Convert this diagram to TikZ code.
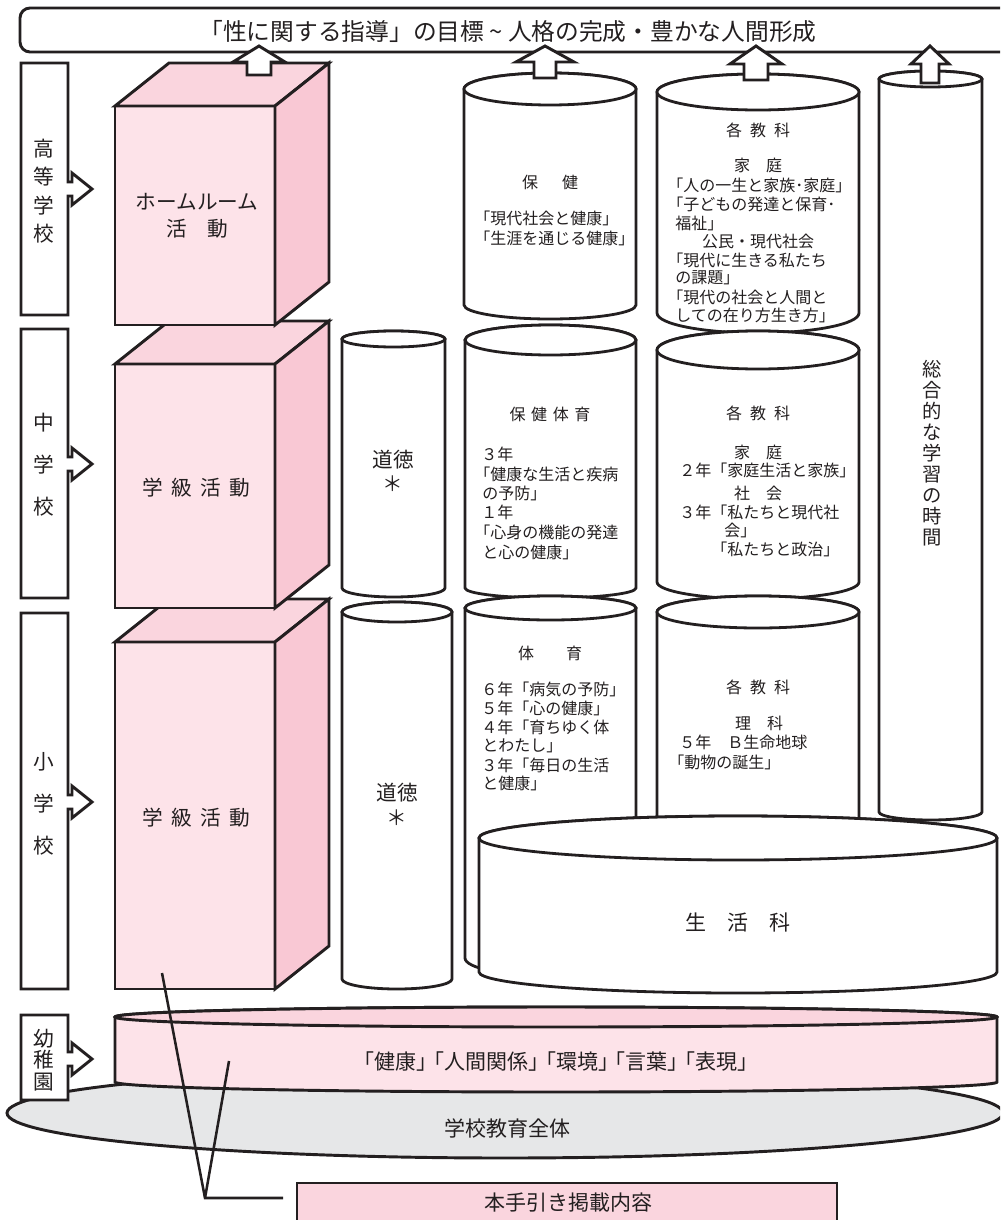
\documentclass[tikz,border=0pt]{standalone}
\usepackage{fontspec}
\setmainfont{Noto Sans CJK JP}
\definecolor{ink}{HTML}{231F20}
\definecolor{pinkF}{HTML}{FDE3E9}
\definecolor{pinkT}{HTML}{FAD5DE}
\definecolor{pinkR}{HTML}{F9C8D4}
\definecolor{grayE}{HTML}{E6E7E8}
% cylinder: x1 x2 ytop ybot rytop rybot
\newcommand\mycyl[6]{%
  \pgfmathsetmacro\cylrx{(#2-#1)/2}%
  \pgfmathsetmacro\cylcx{(#1+#2)/2}%
  \filldraw[cylst] (#1,#3) -- (#1,#4) arc[start angle=180,end angle=0,x radius=\cylrx,y radius=#6] -- (#2,#3) arc[start angle=0,end angle=-180,x radius=\cylrx,y radius=#5] -- cycle;
  \draw[cylst] (\cylcx,#3) ellipse[x radius=\cylrx,y radius=#5];
}
% cuboid: x1 x2 ytop ybot
\newcommand\mycube[4]{%
  \filldraw[outl,fill=pinkF] (#1,#3) rectangle (#2,#4);
  \filldraw[outl,fill=pinkT] (#1,#3) -- ({#1+54},{#3-43}) -- ({#2+54},{#3-43}) -- (#2,#3) -- cycle;
  \filldraw[outl,fill=pinkR] (#2,#3) -- ({#2+54},{#3-43}) -- ({#2+54},{#4-43}) -- (#2,#4) -- cycle;
}
% side label box: ytop ybot yarrow
\newcommand\mylabelbox[3]{%
  \filldraw[outl,fill=white] (21,#1) -- (68,#1) -- (68,{#3-7}) -- (72,{#3-7}) -- (72,{#3-16}) -- (92,#3) -- (72,{#3+16}) -- (72,{#3+7}) -- (68,{#3+7}) -- (68,#2) -- (21,#2) -- cycle;
}
% up block arrow: cx tip headhalf shafthalf base bottom
\newcommand\myuparrow[6]{%
  \filldraw[outl,fill=white] (#1,#2) -- ({#1+#3},#5) -- ({#1+#4},#5) -- ({#1+#4},#6) -- ({#1-#4},#6) -- ({#1-#4},#5) -- ({#1-#3},#5) -- cycle;
}
\begin{document}
\begin{tikzpicture}[x=0.75pt,y=-0.75pt,
  outl/.style={draw=ink,line width=2.2pt},
  cylst/.style={draw=ink,fill=white,line width=2.1pt},
  smalltxt/.style={text=ink,inner sep=0pt,font=\fontsize{12}{14}\selectfont},
  midtxt/.style={text=ink,inner sep=0pt,font=\fontsize{15.5}{20.3}\selectfont,align=center},
  bandtxt/.style={text=ink,inner sep=0pt,font=\fontsize{15.75}{18}\selectfont},
  sidetxt/.style={text=ink,inner sep=0pt,align=center},
  titletxt/.style={text=ink,inner sep=0pt,font=\fontsize{17.8}{20}\selectfont}]
\useasboundingbox (0,0) rectangle (1000,1220);
\clip (0,0) rectangle (1000,1220);

% ---- title
\draw[outl,rounded corners=7.5pt] (20,8) rectangle (1030,52);
\node[titletxt] (title) at (508,31) {「性に関する指導」の目標 \textasciitilde{} 人格の完成・豊かな人間形成};

% ---- side boxes
\mylabelbox{63}{315}{189}
\node[sidetxt,font=\fontsize{15.5}{21.4}\selectfont] (lbH) at (44,191) {高\\等\\学\\校};
\mylabelbox{329}{598}{464}
\node[sidetxt,font=\fontsize{15.5}{31.5}\selectfont] (lbM) at (44,465) {中\\学\\校};
\mylabelbox{613}{989}{802}
\node[sidetxt,font=\fontsize{15.5}{31.5}\selectfont] (lbE) at (44,804) {小\\学\\校};

% ---- cuboids
\mycube{115}{275}{642}{989}
\node[midtxt] (caE) at (196,818) {学\hspace{0.4em}級\hspace{0.4em}活\hspace{0.4em}動};
\mycube{115}{275}{364}{608}
\node[midtxt] (caM) at (196,488) {学\hspace{0.4em}級\hspace{0.4em}活\hspace{0.4em}動};
\mycube{115}{275}{106}{325}
\node[midtxt] (hr) at (197,216) {ホームルーム\\活　動};

% ---- moral
\mycyl{342}{445}{339}{588}{8}{9}
\node[midtxt] (mrM) at (393,460) {道徳};
\node[midtxt] (mrMs) at (393,484) {＊};
\mycyl{342}{452}{612}{979}{10}{10}
\node[midtxt] (mrE) at (397,793) {道徳};
\node[midtxt] (mrEs) at (397,818) {＊};

% ---- health column
\mycyl{464}{636}{89}{305}{16}{14}
\node[smalltxt] (hk1) at (550,182) {保\hspace{1.5em}健};
\node[smalltxt,anchor=west] (hk2) at (474,218) {「現代社会と健康」};
\node[smalltxt,anchor=west] (hk3) at (474,238) {「生涯を通じる健康」};

\mycyl{465}{636}{340}{588}{15}{10}
\node[smalltxt] (hh1) at (550,414) {保\hspace{0.35em}健\hspace{0.35em}体\hspace{0.35em}育};
\node[smalltxt,anchor=west] (hh2) at (481,454) {３年};
\node[smalltxt,anchor=west] (hh3) at (474,474) {「健康な生活と疾病};
\node[smalltxt,anchor=west] (hh4) at (482,493) {の予防」};
\node[smalltxt,anchor=west] (hh5) at (481,512) {１年};
\node[smalltxt,anchor=west] (hh6) at (474,532) {「心身の機能の発達};
\node[smalltxt,anchor=west] (hh7) at (482,552) {と心の健康」};

\mycyl{465}{636}{608}{958}{12}{18}
\node[smalltxt] (ty1) at (550,653) {体\hspace{2em}育};
\node[smalltxt,anchor=west] (ty2) at (481,689) {６年「病気の予防」};
\node[smalltxt,anchor=west] (ty3) at (481,708) {５年「心の健康」};
\node[smalltxt,anchor=west] (ty4) at (481,727) {４年「育ちゆく体};
\node[smalltxt,anchor=west] (ty5) at (482,746) {とわたし」};
\node[smalltxt,anchor=west] (ty6) at (481,765) {３年「毎日の生活};
\node[smalltxt,anchor=west] (ty7) at (482,783) {と健康」};

% ---- subjects column
\mycyl{657}{859}{92}{313}{18}{20}
\node[smalltxt] (kk1) at (758,130) {各\hspace{0.5em}教\hspace{0.5em}科};
\node[smalltxt] (kk2) at (758,165) {家　庭};
\node[smalltxt,anchor=west] (kk3) at (667,185) {「人の一生と家族･家庭」};
\node[smalltxt,anchor=west] (kk4) at (667,204) {「子どもの発達と保育･};
\node[smalltxt,anchor=west] (kk5) at (675,223) {福祉」};
\node[smalltxt] (kk6) at (758,241) {公民・現代社会};
\node[smalltxt,anchor=west] (kk7) at (667,260) {「現代に生きる私たち};
\node[smalltxt,anchor=west] (kk8) at (675,278) {の課題」};
\node[smalltxt,anchor=west] (kk9) at (667,297) {「現代の社会と人間と};
\node[smalltxt,anchor=west] (kk10) at (675,315) {しての在り方生き方」};

\mycyl{657}{859}{350}{582}{19}{17}
\node[smalltxt] (km1) at (758,413) {各\hspace{0.5em}教\hspace{0.5em}科};
\node[smalltxt] (km2) at (758,452) {家　庭};
\node[smalltxt,anchor=west] (km3) at (679,470) {２年「家庭生活と家族」};
\node[smalltxt] (km4) at (758,493) {社　会};
\node[smalltxt,anchor=west] (km5) at (679,512) {３年「私たちと現代社};
\node[smalltxt,anchor=west] (km6) at (724,530) {会」};
\node[smalltxt,anchor=west] (km7) at (711,549) {「私たちと政治」};

\mycyl{657}{859}{612}{930}{16}{16}
\node[smalltxt] (ks1) at (758,687) {各\hspace{0.5em}教\hspace{0.5em}科};
\node[smalltxt] (ks2) at (759,723) {理　科};
\node[smalltxt,anchor=west] (ks3) at (679,742) {５年　Ｂ生命地球};
\node[smalltxt,anchor=west] (ks4) at (668,762) {「動物の誕生」};

% ---- integrated study
\mycyl{879}{982}{79}{812}{8}{8}
\node[sidetxt,font=\fontsize{14.5}{15.75}\selectfont] (sg) at (932,453) {総\\合\\的\\な\\学\\習\\の\\時\\間};

% ---- life environment studies
\mycyl{479}{997}{838}{972}{22}{21}
\node[bandtxt] (sk) at (738,922) {生　活　科};

% ---- whole school / kindergarten
\filldraw[outl,fill=grayE] (505,1113) ellipse[x radius=498,y radius=45];
\node[bandtxt] (gk) at (507,1128) {学校教育全体};
\filldraw[outl,fill=pinkF] (115,1017) -- (115,1082) arc[start angle=180,end angle=0,x radius=441,y radius=10] -- (997,1017) arc[start angle=0,end angle=-180,x radius=441,y radius=10] -- cycle;
\filldraw[outl,fill=pinkT] (556,1017) ellipse[x radius=441,y radius=10];
\node[bandtxt] (yt) at (556,1062) {「健康」\hspace{-0.67em}「人間関係」\hspace{-0.67em}「環境」\hspace{-0.67em}「言葉」\hspace{-0.67em}「表現」};
\mylabelbox{1015}{1100}{1059}
\node[sidetxt,font=\fontsize{15.5}{16.1}\selectfont] (lbK) at (44,1060) {幼\\稚\\園};

% ---- guide box
\filldraw[outl,fill=pinkT] (297,1183) rectangle (837,1240);
\node[bandtxt] (hb) at (568,1203) {本手引き掲載内容};

% ---- up arrows
\myuparrow{259}{46}{26}{12}{62}{75}
\myuparrow{545}{46}{29}{11}{62}{78}
\myuparrow{756}{46}{26}{12}{64}{80}
\myuparrow{930}{46}{19}{9}{64}{83}

% ---- leader lines
\coordinate (p1) at (162,973);
\coordinate (p2) at (229,1061);
\coordinate (pv) at (205,1198);
\coordinate (pe) at (283,1198);
\draw[draw=ink,line width=1.9pt] (p1) -- (pv) -- (pe);
\draw[draw=ink,line width=1.9pt] (pv) -- (p2);
\end{tikzpicture}
\end{document}
